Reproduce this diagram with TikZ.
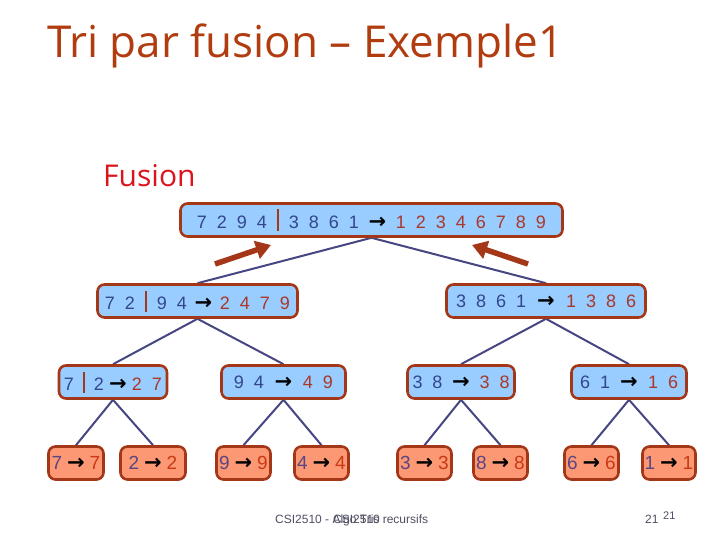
\documentclass[tikz,border=0pt]{standalone}
\usepackage{fontspec}
\setmainfont{Liberation Sans}
\newfontfamily\titlefont{Open Sans}
\newfontfamily\arrowfont{DejaVu Sans}
\usetikzlibrary{arrows.meta,backgrounds}
\definecolor{lblue}{HTML}{99CCFF}
\definecolor{salmon}{HTML}{FC9874}
\definecolor{brd}{HTML}{A53719}
\definecolor{dblue}{HTML}{33468C}
\definecolor{dred}{HTML}{AA3728}
\definecolor{lpurp}{HTML}{5A4682}
\definecolor{lred}{HTML}{C83A14}
\definecolor{connc}{HTML}{464682}
\definecolor{titlec}{HTML}{B03C10}
\definecolor{fusc}{HTML}{DC141E}
\definecolor{footc}{HTML}{505064}
\newcommand{\dB}[1]{\makebox[20pt]{\color{dblue}#1}}
\newcommand{\dR}[1]{\makebox[20pt]{\color{dred}#1}}
\newcommand{\sepbar}[1][12pt]{\makebox[#1]{\color{brd}\rule[-2pt]{2.5pt}{21pt}}}
\newcommand{\arw}[1]{\makebox[#1]{\arrowfont\bfseries\fontsize{21}{21}\selectfont\color{black}→}}
\newcommand{\lfL}[1]{\makebox[12pt]{\color{lpurp}#1}}
\newcommand{\lfR}[1]{\makebox[12pt]{\color{lred}#1}}
\begin{document}
\begin{tikzpicture}[x=1pt,y=-1pt,
  box/.style={draw=brd, line width=2.6pt, rounded corners=7pt, fill=lblue,
    inner sep=0pt, minimum height=33pt, font=\fontsize{18}{18}\selectfont},
  leaf/.style={box, fill=salmon, font=\fontsize{19}{19}\selectfont},
  conn/.style={draw=connc, line width=2pt},
  bigarrow/.style={draw=brd, line width=5.5pt, -{Triangle[length=15pt,width=18pt]}},
  txt/.style={anchor=base west, inner sep=0pt}
]
\useasboundingbox (0,0) rectangle (720,540);

% title texts
\node[txt, text=titlec, font=\titlefont\fontsize{44}{44}\selectfont] (title) at (47,58) {Tri par fusion – Exemple1};
\node[txt, text=fusc, font=\titlefont\fontsize{30}{30}\selectfont] (fus) at (103,187) {Fusion};

% root
\node[box, minimum width=382pt] (root) at (371.5,220)
  {\dB7\dB2\dB9\dB4\sepbar\dB3\dB8\dB6\dB1\arw{27pt}\dR1\dR2\dR3\dR4\dR6\dR7\dR8\dR9};

% level 1
\node[box, minimum width=200pt] (L) at (197.5,301)
  {\dB7\dB2\sepbar\dB9\dB4\arw{23pt}\dR2\dR4\dR7\dR9};
\node[box, minimum width=199pt] (R) at (546,301)
  {\dB3\dB8\dB6\dB1\arw{30pt}\dR1\dR3\dR8\dR6};

% level 2
\node[box, minimum width=107pt] (A1) at (113,382)
  {\dB7\sepbar[10pt]\dB2\arw{18pt}\dR2\dR7};
\node[box, minimum width=124pt] (A2) at (283.5,382)
  {\dB9\dB4\arw{29pt}\dR4\dR9};
\node[box, minimum width=107pt] (A3) at (461,382)
  {\dB3\dB8\arw{27pt}\dR3\dR8};
\node[box, minimum width=115pt] (A4) at (629,382)
  {\dB6\dB1\arw{28pt}\dR1\dR6};

% leaves
\node[leaf, minimum width=55pt] (l1) at (76,463) {\lfL7\arw{26pt}\lfR7};
\node[leaf, minimum width=65pt] (l2) at (153,463) {\lfL2\arw{26pt}\lfR2};
\node[leaf, minimum width=54pt] (l3) at (243.5,463) {\lfL9\arw{26pt}\lfR9};
\node[leaf, minimum width=54pt] (l4) at (321.5,463) {\lfL4\arw{26pt}\lfR4};
\node[leaf, minimum width=54pt] (l5) at (424.5,463) {\lfL3\arw{26pt}\lfR3};
\node[leaf, minimum width=54pt] (l6) at (500.5,463) {\lfL8\arw{26pt}\lfR8};
\node[leaf, minimum width=54pt] (l7) at (591.5,463) {\lfL6\arw{26pt}\lfR6};
\node[leaf, minimum width=53pt] (l8) at (669,463) {\lfL1\arw{26pt}\lfR1};

% connectors behind
\begin{scope}[on background layer]
  \fill[white] (0,0) rectangle (720,540);
  \draw[conn] (root.south) -- (L.north);
  \draw[conn] (root.south) -- (R.north);
  \draw[conn] (L.south) -- (A1.north);
  \draw[conn] (L.south) -- (A2.north);
  \draw[conn] (R.south) -- (A3.north);
  \draw[conn] (R.south) -- (A4.north);
  \draw[conn] (A1.south) -- (l1.north);
  \draw[conn] (A1.south) -- (l2.north);
  \draw[conn] (A2.south) -- (l3.north);
  \draw[conn] (A2.south) -- (l4.north);
  \draw[conn] (A3.south) -- (l5.north);
  \draw[conn] (A3.south) -- (l6.north);
  \draw[conn] (A4.south) -- (l7.north);
  \draw[conn] (A4.south) -- (l8.north);
\end{scope}

% red arrows
\coordinate (la1) at (215,264);
\coordinate (la2) at (271,245);
\coordinate (ra1) at (528,264);
\coordinate (ra2) at (472,245);
\draw[bigarrow] (la1) -- (la2);
\draw[bigarrow] (ra1) -- (ra2);

% footer
\node[txt, text=footc, font=\fontsize{12}{12}\selectfont] (foot1) at (275,523) {CSI2510 - Algo Tris recursifs};
\node[txt, text=footc, font=\fontsize{12}{12}\selectfont] (foot2) at (333,523) {CSI2510};
\node[txt, text=footc, font=\fontsize{12}{12}\selectfont] (pg1) at (645,523) {21};
\node[txt, text=footc, font=\fontsize{11}{11}\selectfont] (pg2) at (663,519) {21};
\end{tikzpicture}
\end{document}
